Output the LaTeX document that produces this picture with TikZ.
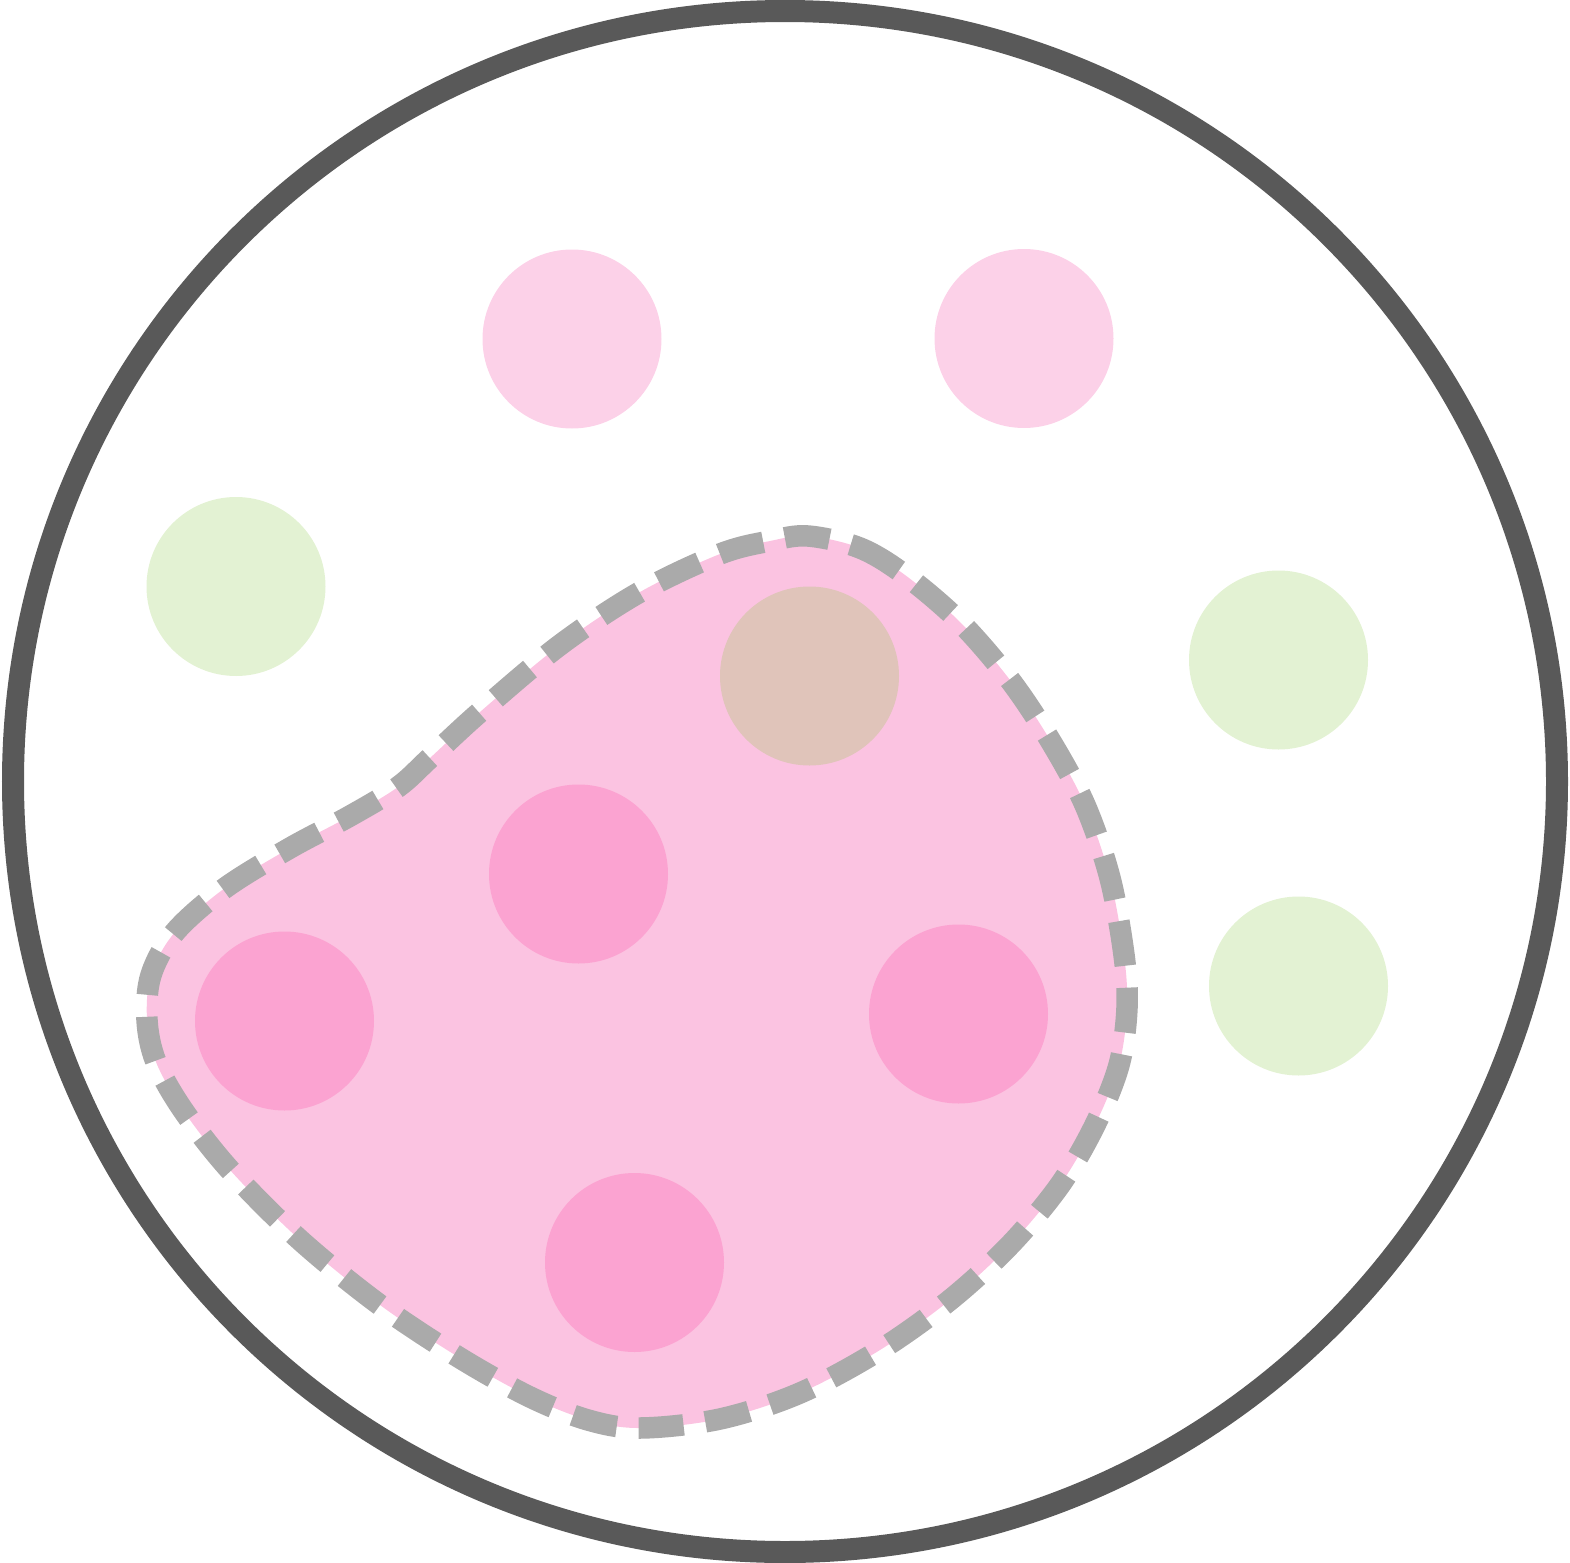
\documentclass[tikz,border=0pt]{standalone}
\usetikzlibrary{shapes.geometric}
\definecolor{rimgray}{HTML}{595959}
\definecolor{dashgray}{HTML}{AAAAAA}
\definecolor{lightpink}{HTML}{FCD1E8}
\definecolor{lightgreen}{HTML}{E3F2D3}
\definecolor{blobpink}{HTML}{FBC3E1}
\definecolor{deeppink}{HTML}{FBA3D1}
\definecolor{tan}{HTML}{E0C4BA}
\tikzset{
  dot/.style={circle, inner sep=0pt, minimum size=89.5pt, draw=none},
  pinkdot/.style={dot, fill=lightpink},
  greendot/.style={dot, fill=lightgreen},
  deepdot/.style={dot, fill=deeppink},
  tandot/.style={dot, fill=tan},
  rim/.style={ellipse, inner sep=0pt, draw=rimgray, line width=11pt, minimum width=772pt, minimum height=770.5pt},
  blob/.style={fill=blobpink, draw=dashgray, line width=10.75pt, dash pattern=on 22.5pt off 11pt}
}
\begin{document}
\begin{tikzpicture}[x=0.5pt, y=-0.5pt]
\useasboundingbox (0,0) rectangle (1570,1563);
\node[rim] (cell) at (785,781.5) {};
\node[pinkdot] (p1) at (572,339) {};
\node[pinkdot] (p2) at (1024,338.5) {};
\node[greendot] (g1) at (236,586.5) {};
\node[greendot] (g2) at (1278.5,660) {};
\node[greendot] (g3) at (1298.5,986) {};
\draw[blob] plot[smooth cycle, tension=0.55] coordinates {
 (808,536) (860,548) (905,575) (960,622) (1010,680) (1050,740) (1085,805)
 (1110,878) (1124,955) (1127,1008) (1119,1065) (1095,1125) (1060,1185)
 (1010,1245) (950,1300) (880,1350) (800,1393) (720,1419) (640,1428)
 (588,1420) (530,1397) (460,1358) (380,1305) (300,1240) (230,1170)
 (183,1110) (156,1062) (147,1020) (151,975) (175,932) (225,888)
 (290,848) (350,816) (398,787) (430,758) (480,712) (560,645) (640,592)
 (720,554) (770,541)};
\node[tandot] (t1) at (809.5,676) {};
\node[deepdot] (d1) at (578.5,874) {};
\node[deepdot] (d2) at (284.5,1021) {};
\node[deepdot] (d3) at (958.5,1014) {};
\node[deepdot] (d4) at (634.5,1262.5) {};
\end{tikzpicture}
\end{document}
